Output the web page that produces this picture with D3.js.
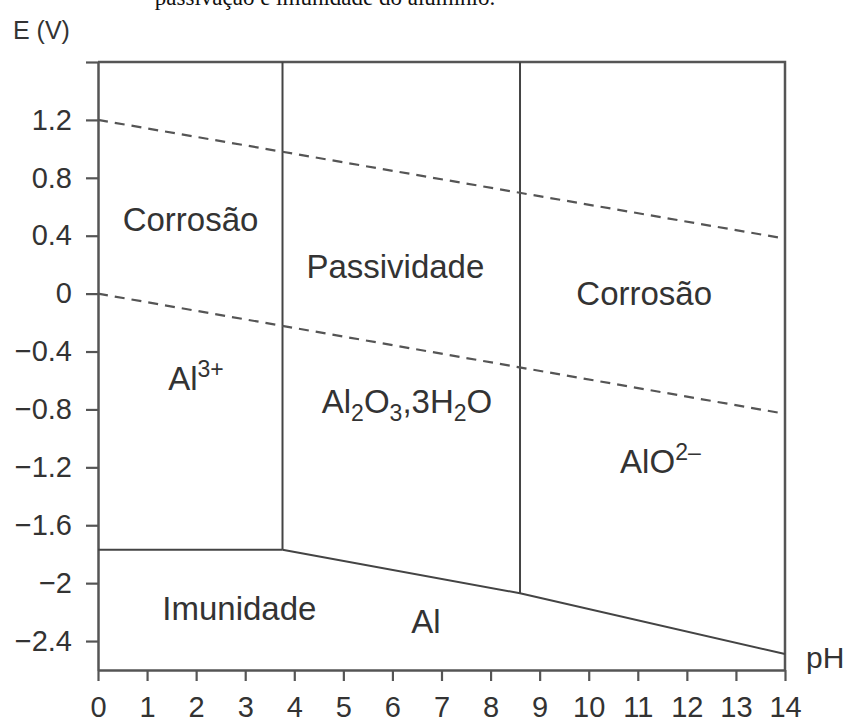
<!DOCTYPE html>
<html>
<head>
<meta charset="utf-8">
<script src="https://cdn.jsdelivr.net/npm/d3@7"></script>
<style>
  html, body { margin: 0; padding: 0; background: #fff; }
  svg { display: block; }
  text { font-family: "Liberation Sans", Arial, sans-serif; fill: #333; }
</style>
</head>
<body>
<svg id="chart" width="848" height="724"></svg>
<script>
// ---- data ----
const phTicks = [0, 1, 2, 3, 4, 5, 6, 7, 8, 9, 10, 11, 12, 13, 14];
const eTicks = [1.6, 1.2, 0.8, 0.4, 0, -0.4, -0.8, -1.2, -1.6, -2, -2.4];
const eTickLabels = ["", "1.2", "0.8", "0.4", "0", "\u22120.4", "\u22120.8", "\u22121.2", "\u22121.6", "\u22122", "\u22122.4"];
const phDomain = [0, 14];
const eDomain = [-2.6, 1.6];

// solid phase boundaries (pH, E)
const immunityBoundaryLeft = [[0, -1.77], [3.76, -1.77]];
const immunityBoundaryRight = [[3.76, -1.77], [8.6, -2.07], [14, -2.49]];
const passiveLeftBoundary = [[3.76, 1.6], [3.76, -1.77]];
const passiveRightBoundary = [[8.6, 1.6], [8.6, -2.07]];
// water stability lines (dashed)
const oxygenLine = [[0, 1.2], [14, 0.38]];
const hydrogenLine = [[0, 0], [14, -0.83]];

// region labels: text parts [text, kind] with anchor in (pH, E)
const regionLabels = [
  { parts: [["Corrosão", "n"]], ph: 1.885, e: 0.43, anchor: "middle" },
  { parts: [["Passividade", "n"]], ph: 6.06, e: 0.106, anchor: "middle" },
  { parts: [["Corrosão", "n"]], ph: 11.13, e: -0.08, anchor: "middle" },
  { parts: [["Al", "n"], ["3+", "sup"]], ph: 1.43, e: -0.666, anchor: "start" },
  { parts: [["Al", "n"], ["2", "sub"], ["O", "n"], ["3", "sub"], [",3H", "n"], ["2", "sub"], ["O", "n"]], ph: 4.56, e: -0.827, anchor: "start" },
  { parts: [["AlO", "n"], ["2\u2013", "sup"]], ph: 10.64, e: -1.241, anchor: "start" },
  { parts: [["Imunidade", "n"]], ph: 2.88, e: -2.255, anchor: "middle" },
  { parts: [["Al", "n"]], ph: 6.68, e: -2.347, anchor: "middle" }
];

// ---- drawing ----
const svg = d3.select("#chart");
const x = d3.scaleLinear().domain(phDomain).range([98, 785]);
const y = d3.scaleLinear().domain(eDomain).range([670, 62]);

// cut-off caption at the very top (as in the source image)
svg.append("text")
  .attr("x", 325).attr("y", 5)
  .attr("text-anchor", "middle")
  .style("font-family", "'Liberation Serif', 'Times New Roman', serif")
  .style("font-size", "23px")
  .style("fill", "#111")
  .text("passivação e imunidade do alumínio.");

// frame: top and right
const line = d3.line().x(d => x(d[0])).y(d => y(d[1]));
svg.append("path")
  .attr("d", line([[phDomain[0], eDomain[1]], [phDomain[1], eDomain[1]], [phDomain[1], eDomain[0]]]))
  .attr("fill", "none").attr("stroke", "#555").attr("stroke-width", 2.5);

// y axis
const yAxis = d3.axisLeft(y)
  .tickValues(eTicks)
  .tickFormat((d, i) => eTickLabels[i])
  .tickSize(12).tickSizeOuter(0).tickPadding(14);
const gy = svg.append("g").attr("transform", `translate(${x(0)},0)`).call(yAxis);
gy.selectAll(".domain").attr("stroke", "#555").attr("stroke-width", 2.5);
gy.selectAll(".tick line").attr("stroke", "#555").attr("stroke-width", 2.2);
gy.selectAll(".tick text")
  .style("font-family", "'Liberation Sans', Arial, sans-serif")
  .style("font-size", "29px").attr("fill", "#333");

// x axis
const xAxis = d3.axisBottom(x)
  .tickValues(phTicks)
  .tickSize(11).tickSizeOuter(0).tickPadding(15);
const gx = svg.append("g").attr("transform", `translate(0,${y(eDomain[0])})`).call(xAxis);
gx.selectAll(".domain").attr("stroke", "#555").attr("stroke-width", 2.5);
gx.selectAll(".tick line").attr("stroke", "#555").attr("stroke-width", 2.2);
gx.selectAll(".tick text")
  .style("font-family", "'Liberation Sans', Arial, sans-serif")
  .style("font-size", "29px").attr("fill", "#333");

// boundaries
[immunityBoundaryLeft, immunityBoundaryRight, passiveLeftBoundary, passiveRightBoundary].forEach(pts => {
  svg.append("path").attr("d", line(pts))
    .attr("fill", "none").attr("stroke", "#444").attr("stroke-width", 2);
});
[oxygenLine, hydrogenLine].forEach(pts => {
  svg.append("path").attr("d", line(pts))
    .attr("fill", "none").attr("stroke", "#555").attr("stroke-width", 2.2)
    .attr("stroke-dasharray", "10,7");
});

// axis titles
svg.append("text").attr("x", 13).attr("y", 39)
  .style("font-size", "25px").text("E (V)");
svg.append("text").attr("x", 806).attr("y", 668)
  .style("font-size", "30px").text("pH");

// region labels
regionLabels.forEach(lab => {
  const t = svg.append("text")
    .attr("x", x(lab.ph)).attr("y", y(lab.e))
    .attr("text-anchor", lab.anchor)
    .style("font-size", "33px");
  let shift = 0;
  lab.parts.forEach(([txt, kind]) => {
    let target = 0;
    if (kind === "sup") target = -13;
    if (kind === "sub") target = 8;
    const ts = t.append("tspan").attr("dy", target - shift).text(txt);
    if (kind !== "n") ts.style("font-size", "23px");
    shift = target;
  });
});
</script>
</body>
</html>
